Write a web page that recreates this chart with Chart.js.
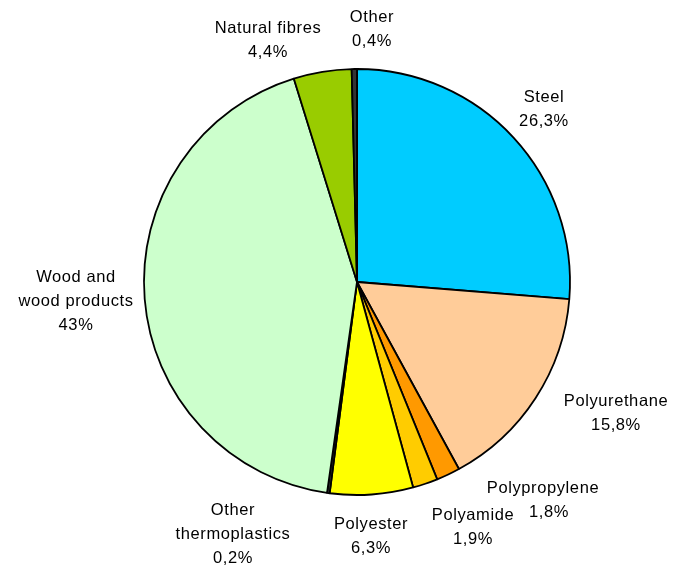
<!DOCTYPE html>
<html>
<head>
<meta charset="utf-8">
<script src="https://cdn.jsdelivr.net/npm/chart.js@4.4.1/dist/chart.umd.min.js"></script>
<style>
  html, body { margin: 0; padding: 0; background: #fff; }
  #wrap { width: 686px; height: 567px; }
</style>
</head>
<body>
<div id="wrap"><canvas id="pie" width="686" height="567"></canvas></div>
<script>
// materials, clockwise from 12 o'clock
const labels = [
  ["Steel"],
  ["Polyurethane"],
  ["Polypropylene"],
  ["Polyamide"],
  ["Polyester"],
  ["Other", "thermoplastics"],
  ["Wood and", "wood products"],
  ["Natural fibres"],
  ["Other"],
];
const shares = [26.3, 15.8, 1.8, 1.9, 6.3, 0.2, 43, 4.4, 0.4];
const colors = ["#00CCFF", "#FFCC99", "#FF9900", "#FFCC00", "#FFFF00", "#333333", "#CCFFCC", "#99CC00", "#333333"];

// where each label block sits, relative to the pie centre
const labelOffsets = [
  [187, -173], [259, 131], [186, 218], [116, 245], [14, 254],
  [-124, 252], [-281, 19], [-89, -242], [15, -253],
];

const pct = (v) => String(v).replace(".", ",") + "%";

const outsideLabels = {
  id: "outsideLabels",
  afterDraw(chart) {
    const ctx = chart.ctx;
    const arcs = chart.getDatasetMeta(0).data;
    ctx.save();
    ctx.fillStyle = "#000";
    ctx.font = "16.5px 'Liberation Sans', Arial, sans-serif";
    ctx.letterSpacing = "0.6px";
    ctx.textAlign = "center";
    ctx.textBaseline = "middle";
    arcs.forEach((arc, i) => {
      const lines = labels[i].concat([pct(shares[i])]);
      const cx = arc.x + labelOffsets[i][0];
      const cy = arc.y + labelOffsets[i][1];
      const lh = 24;
      const top = cy - (lines.length - 1) * lh / 2;
      lines.forEach((t, k) => {
        let x = cx;
        // Polypropylene: percentage sits a bit to the right
        if (i === 2 && k === 1) x += 6;
        ctx.fillText(t, x, top + k * lh);
      });
    });
    ctx.restore();
  },
};

new Chart(document.getElementById("pie"), {
  type: "pie",
  data: {
    labels: labels.map((l) => l.join(" ")),
    datasets: [{
      data: shares,
      backgroundColor: colors,
      borderColor: "#000",
      borderWidth: 1.8,
    }],
  },
  options: {
    responsive: false,
    animation: false,
    radius: 213,
    layout: { padding: { left: 28, right: 0, top: 0, bottom: 3 } },
    plugins: {
      legend: { display: false },
      tooltip: { enabled: false },
    },
  },
  plugins: [outsideLabels],
});
</script>
</body>
</html>
